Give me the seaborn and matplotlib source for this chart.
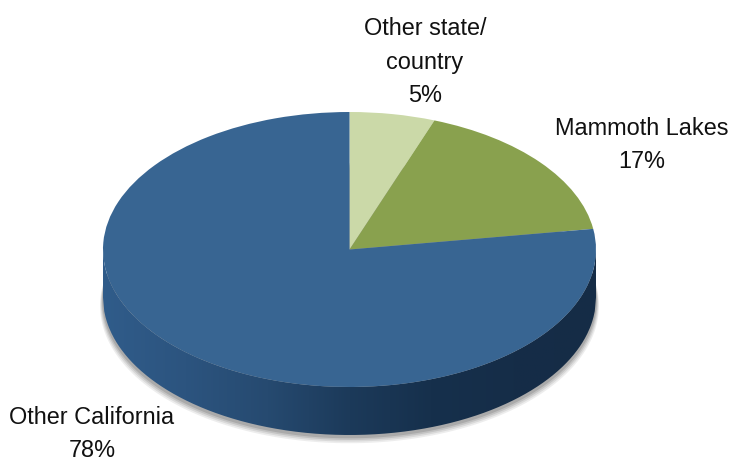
import numpy as np
import matplotlib
matplotlib.use("Agg")
import matplotlib.pyplot as plt
from matplotlib.colors import LinearSegmentedColormap
from matplotlib.patches import PathPatch
from matplotlib.path import Path
import seaborn as sns

categories = ["Other state/\ncountry", "Mammoth Lakes", "Other California"]
label_percents = [5, 17, 78]
slice_shares = [5.6, 17.0, 77.4]
slice_colors = ["#cbd9a8", "#89a14e", "#386592"]

sns.set_theme(style="white")
plt.rcParams["font.family"] = ["Liberation Sans", "DejaVu Sans"]

W, H = 730, 458
CX, CY, RX, RY, DEPTH = 349.5, 249.5, 246.5, 137.5, 48.0
fig = plt.figure(figsize=(W / 100, H / 100), dpi=100, facecolor="white")
ax = fig.add_axes([0, 0, 1, 1])

sns.set_palette(slice_colors)
ax.pie(slice_shares, colors=sns.color_palette(), startangle=90, counterclock=False,
       radius=1, center=(0, 0), wedgeprops=dict(linewidth=0, zorder=5))
ax.set_aspect("auto")
ax.set_xlim((0 - CX) / RX, (W - CX) / RX)
ax.set_ylim((CY - H) / RY, (CY - 0) / RY)
ax.axis("off")

d = DEPTH / RY
t = np.linspace(0, 2 * np.pi, 400)

# soft drop shadow around the rim
for e, a in [(0.012, 0.10), (0.009, 0.13), (0.006, 0.17), (0.003, 0.22)]:
    ax.fill(np.cos(t) * (1 + e), np.sin(t) - d - e * 4 - 0.012,
            color="#555555", alpha=a, lw=0, zorder=1)

# side wall of the disc
xs = np.linspace(-1, 1, 400)
low = -np.sqrt(1 - xs ** 2)
verts = np.r_[np.c_[xs, low], np.c_[xs[::-1], low[::-1] - d]]
wall = PathPatch(Path(verts), fc="none", ec="none", transform=ax.transData)
ax.add_patch(wall)
side = LinearSegmentedColormap.from_list(
    "side", ["#305c8a", "#2c547f", "#264a70", "#1c3a5a", "#16304c", "#152d48", "#152c46"])
im = ax.imshow(np.linspace(0, 1, 256)[None, :], cmap=side, aspect="auto",
               extent=(-1, 1, -1 - d, 0), zorder=3)
im.set_clip_path(wall)
ax.set_xlim((0 - CX) / RX, (W - CX) / RX)
ax.set_ylim((CY - H) / RY, (CY - 0) / RY)

label_xy = [(425, 62), (642, 145), (92, 434)]
for name, pct, (px, py) in zip(categories, label_percents, label_xy):
    fig.text(px / W, 1 - py / H, f"{name}\n{pct}%", ha="center", va="center",
             fontsize=16.9, color="#111111", linespacing=1.58)

fig.savefig("out.png", dpi=100, facecolor="white")
